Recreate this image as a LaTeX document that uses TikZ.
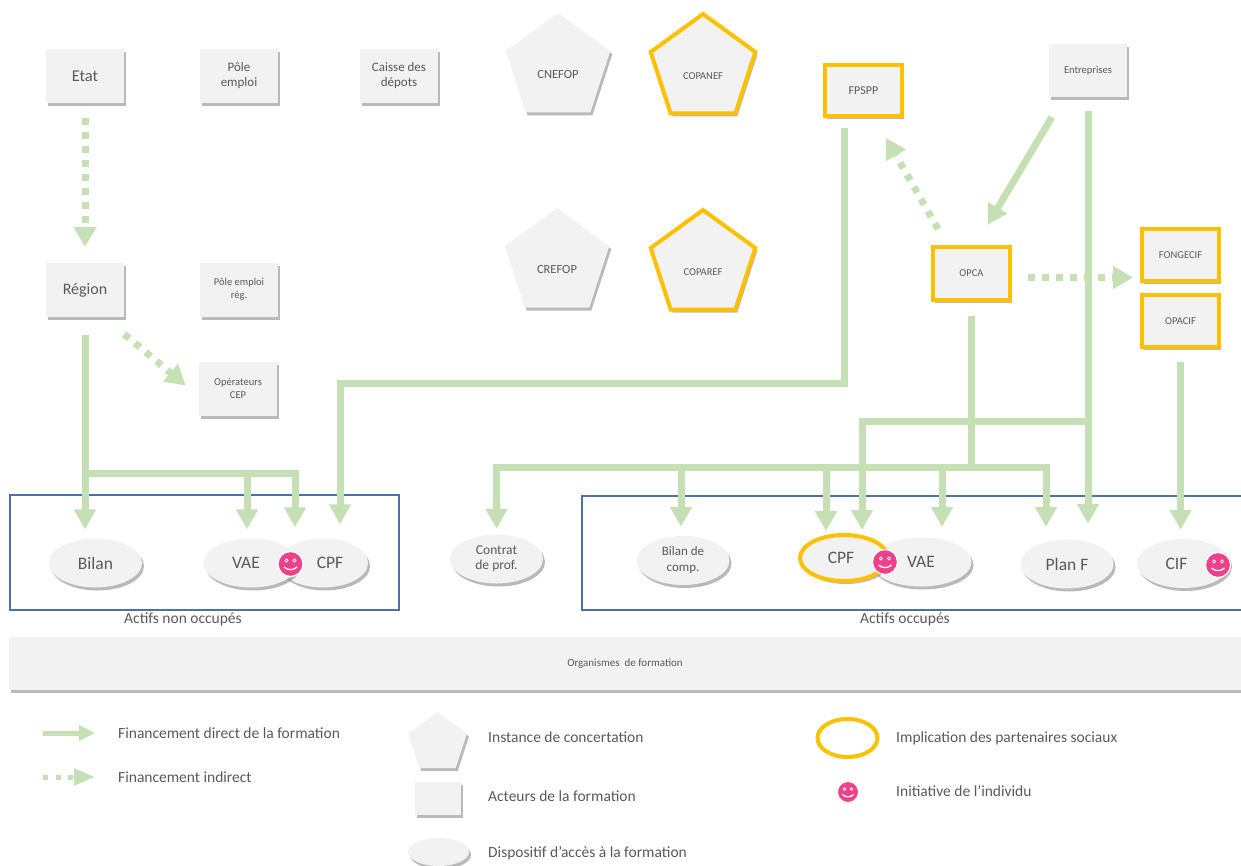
\documentclass[tikz,border=0pt]{standalone}
\usepackage{fontspec}
\setmainfont{Carlito}
\usetikzlibrary{arrows.meta,shapes.geometric,shadows}

\definecolor{boxgray}{HTML}{F2F2F2}
\definecolor{txtgray}{HTML}{595959}
\definecolor{fundgreen}{HTML}{C5E0B4}
\definecolor{socialorange}{HTML}{FFC000}
\definecolor{smilepink}{HTML}{EF4189}
\definecolor{frameblue}{HTML}{4A72A8}

\tikzset{
  castshadow/.style={drop shadow={shadow xshift=2pt, shadow yshift=-3pt, opacity=0.5, fill=black!55}},
  acteur/.style={rectangle, fill=boxgray, castshadow, text=txtgray, align=center,
    inner sep=0pt, minimum width=78pt, minimum height=54pt},
  paritaire/.style={draw=socialorange, line width=4pt},
  instance/.style={regular polygon, regular polygon sides=5, fill=boxgray, castshadow,
    inner sep=0pt, minimum size=110pt},
  dispositif/.style={ellipse, fill=boxgray, castshadow, text=txtgray, align=center,
    inner sep=0pt, minimum width=93pt, minimum height=49pt, font=\fontsize{17.5}{19}\selectfont},
  cadre/.style={rectangle, draw=frameblue, line width=1.1pt, inner sep=0pt},
  legende/.style={text=txtgray, inner sep=0pt, font=\fontsize{15.5}{17}\selectfont},
  direct/.style={draw=fundgreen, line width=7pt, -{Triangle[width=21pt,length=20pt]}},
  indirect/.style={draw=fundgreen, line width=7pt, dash pattern=on 6.5pt off 7.5pt,
    -{Triangle[width=22pt,length=20pt]}},
  smiley/.pic={
    \filldraw[fill=smilepink, draw=white, line width=1.2pt] (0,0) circle (12.5);
    \draw[white, line width=0.7pt] (-4,-3.5) circle (1.6) (4,-3.5) circle (1.6);
    \draw[white, line width=1.3pt] (-6.5,3) .. controls (-3,6.5) and (3,6.5) .. (6.5,3);
  }
}

\begin{document}
\begin{tikzpicture}[x=1pt, y=-1pt]
    \useasboundingbox (0,0) rectangle (1241,865);

    % Publics
    \node[cadre, minimum width=389pt, minimum height=115pt] (nonocc) at (204.5,552.5) {};
    \node[cadre, minimum width=678pt, minimum height=114pt] (occ) at (921,553) {};
    \node[legende] (lblnonocc) at (183,619) {Actifs non occupés};
    \node[legende] (lblocc) at (905,619) {Actifs occupés};

    % Organismes de formation
    \node[acteur, minimum width=1232pt, minimum height=53pt, font=\fontsize{11}{12}\selectfont]
        (organismes) at (625,663.5) {Organismes\ \ de formation};

    % Acteurs
    \node[acteur, font=\fontsize{16.5}{18}\selectfont] (etat) at (85,76) {Etat};
    \node[acteur, font=\fontsize{13}{15}\selectfont] (pole) at (239,76) {Pôle\\emploi};
    \node[acteur, font=\fontsize{13}{15}\selectfont] (caisse) at (399,76) {Caisse des\\dépots};
    \node[acteur, font=\fontsize{16}{18}\selectfont] (region) at (85,290) {Région};
    \node[acteur, font=\fontsize{10.5}{13}\selectfont] (polereg) at (239,289.5) {Pôle emploi\\rég.};
    \node[acteur, font=\fontsize{10.5}{13}\selectfont] (cep) at (238,388.5) {Opérateurs\\CEP};
    \node[acteur, font=\fontsize{10.5}{12}\selectfont, minimum height=53pt] (entreprises) at (1088,70.5) {Entreprises};
    \node[acteur, paritaire, font=\fontsize{12}{14}\selectfont, minimum width=77pt, minimum height=51pt] (fpspp) at (863.5,90.5) {FPSPP};
    \node[acteur, paritaire, font=\fontsize{10.5}{12}\selectfont, minimum width=77pt, minimum height=53pt] (opca) at (971.5,273.5) {OPCA};
    \node[acteur, paritaire, font=\fontsize{10.5}{12}\selectfont, minimum width=77pt, minimum height=52pt] (fongecif) at (1180.5,255) {FONGECIF};
    \node[acteur, paritaire, font=\fontsize{10.5}{12}\selectfont, minimum width=77pt, minimum height=52pt] (opacif) at (1180.5,321) {OPACIF};

    % Instances de concertation
    \node[instance, label={[text=txtgray, font=\fontsize{12.5}{14}\selectfont, yshift=-6pt]center:CNEFOP}] (cnefop) at (558,68) {};
    \node[instance, paritaire, label={[text=txtgray, font=\fontsize{10.5}{12}\selectfont, yshift=-7pt]center:COPANEF}] (copanef) at (703,69) {};
    \node[instance, label={[text=txtgray, font=\fontsize{12.5}{14}\selectfont, yshift=-6pt]center:CREFOP}] (crefop) at (557,263) {};
    \node[instance, paritaire, label={[text=txtgray, font=\fontsize{10.5}{12}\selectfont, yshift=-7pt]center:COPAREF}] (coparef) at (703,265) {};

    % Dispositifs
    \node[dispositif] (bilan) at (95.5,563) {Bilan};
    \node[dispositif, minimum width=90pt] (cpfl) at (323,563) {\hspace*{14pt}CPF};
    \node[dispositif, minimum width=95pt] (vael) at (251,563) {VAE\hspace*{10pt}};
    \node[dispositif, font=\fontsize{13.5}{15}\selectfont] (contrat) at (496.5,559) {Contrat\\de prof.};
    \node[dispositif, font=\fontsize{13}{16}\selectfont] (bilanc) at (683,560.5) {Bilan de\\comp.};
    \node[dispositif, minimum width=101pt] (vaer) at (921,562) {VAE};
    \node[dispositif, paritaire, minimum width=88pt, minimum height=46pt] (cpfr) at (844,558) {CPF\hspace*{6pt}};
    \node[dispositif] (planf) at (1067,564) {Plan F};
    \node[dispositif] (cif) at (1183.5,563.5) {CIF\hspace*{14pt}};

    % Financement indirect
    \draw[indirect, shorten <=15pt, shorten >=16pt] (etat) -- (region);
    \draw[indirect] ([yshift=-17pt]region.south east) -- ([xshift=-13pt,yshift=3pt]cep.west);
    \draw[indirect] ([xshift=7pt,yshift=16pt]opca.north west) -- ([xshift=-18pt,yshift=-20pt]fpspp.south east);
    \coordinate (ofong) at ([yshift=-4pt]opca.east);
    \draw[indirect, shorten <=16pt, shorten >=7pt] (ofong) -- (ofong -| fongecif.west);

    % Financement direct
    \coordinate (jreg) at (85,473);
    \draw[direct, shorten <=18pt, shorten >=9pt] (region.south) -- (region.south |- bilan.north);
    \draw[direct, shorten >=9pt] (jreg) -| ([xshift=-4pt]vael.north);
    \draw[direct, shorten >=11pt] (jreg) -| ([xshift=-28pt]cpfl.north);
    \draw[direct, shorten <=10pt, shorten >=14pt] ([xshift=-19.5pt]fpspp.south) -- ++(0,265) -| ([xshift=17pt]cpfl.north);
    \draw[direct] ([xshift=3pt,yshift=-20pt]entreprises.south west) -- ([xshift=16pt,yshift=20pt]opca.north);
    \draw[direct, shorten <=13.5pt, shorten >=15.5pt] (entreprises.south) -- (entreprises.south |- planf.north);
    \coordinate (jent) at (1088,421);
    \draw[direct, shorten >=3pt] (jent) -| ([xshift=18pt]cpfr.north);
    \coordinate (jopca) at (971.5,467);
    \draw[direct, -, shorten <=14pt] (opca.south) -- (jopca);
    \draw[direct, shorten >=5.5pt] (jopca) -| (contrat.north);
    \draw[direct, shorten >=9pt] (jopca) -| ([xshift=-2pt]bilanc.north);
    \draw[direct, shorten >=2pt] (jopca) -| ([xshift=-18pt]cpfr.north);
    \draw[direct, shorten >=10.5pt] (jopca) -| ([xshift=21pt]vaer.north);
    \draw[direct, shorten >=12.5pt] (jopca) -| ([xshift=-21pt]planf.north);
    \draw[direct, shorten <=13pt, shorten >=9pt] (opacif.south) -- (opacif.south |- cif.north);

    % Initiative de l'individu
    \pic at (290.5,564) {smiley};
    \pic at (885,562) {smiley};
    \pic at (1218,565) {smiley};

    % Legende
    \coordinate (legdir) at (43,733);
    \draw[direct, line width=5pt, -{Triangle[width=15pt,length=16pt]}] (legdir) -- ++(52,0);
    \node[legende, anchor=west] (txtdir) at (118,733) {Financement direct de la formation};
    \coordinate (legind) at (43,777);
    \draw[indirect, line width=5pt, dash pattern=on 5pt off 7.5pt, -{Triangle[width=16pt,length=21pt]}] (legind) -- ++(52,0);
    \node[legende, anchor=west] (txtind) at (118,777) {Financement indirect};

    \node[instance, minimum size=62pt] (leginst) at (437.5,743) {};
    \node[legende, anchor=west] (txtinst) at (488,737) {Instance de concertation};
    \node[acteur, minimum width=46pt, minimum height=33pt] (legact) at (438,798.5) {};
    \node[legende, anchor=west] (txtact) at (488,796) {Acteurs de la formation};
    \node[dispositif, minimum width=61pt, minimum height=28pt] (legdisp) at (438.5,852) {};
    \node[legende, anchor=west] (txtdisp) at (488,853) {Dispositif d’accès à la formation};

    \node[ellipse, paritaire, inner sep=0pt, minimum width=60pt, minimum height=38pt] (legpar) at (847.5,738) {};
    \node[legende, anchor=west] (txtpar) at (896,738) {Implication des partenaires sociaux};
    \pic[scale=0.85] at (848,792) {smiley};
    \node[legende, anchor=west] (txtini) at (896,791) {Initiative de l’individu};
\end{tikzpicture}
\end{document}
